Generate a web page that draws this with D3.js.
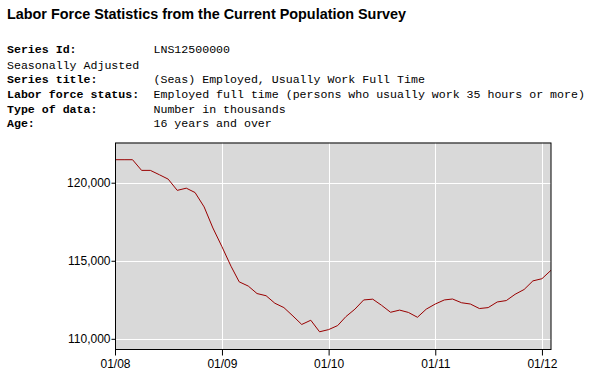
<html>
<head>
    <title>Labor Force Statistics</title>
    <style>
        body{
            margin: 0;
            background: #fff;
        }
        svg{
            display: block;
        }
        .title{
            font-family: Arial, "Liberation Sans", sans-serif;
            font-weight: bold;
            font-size: 14.4px;
        }
        .meta{
            font-family: "Courier New", "Liberation Mono", monospace;
            font-size: 11.6px;
        }
        .axis text{
            font-family: Arial, "Liberation Sans", sans-serif;
            font-size: 12px;
            fill: #000;
        }
    </style>
</head>
<body>
    <script src="https://d3js.org/d3.v7.min.js"></script>
    <script>
        // Series info shown above the chart
        const metaLabels = ["Series Id:", "Seasonally Adjusted", "Series title:", "Labor force status:", "Type of data:", "Age:"]
        const metaValues = ["LNS12500000", "", "(Seas) Employed, Usually Work Full Time",
                            "Employed full time (persons who usually work 35 hours or more)",
                            "Number in thousands", "16 years and over"]
        const metaBold = [true, false, true, true, true, true]

        // Monthly values, Jan 2008 - Feb 2012 (thousands)
        const months = ["2008-01","2008-02","2008-03","2008-04","2008-05","2008-06","2008-07","2008-08","2008-09","2008-10","2008-11","2008-12",
                        "2009-01","2009-02","2009-03","2009-04","2009-05","2009-06","2009-07","2009-08","2009-09","2009-10","2009-11","2009-12",
                        "2010-01","2010-02","2010-03","2010-04","2010-05","2010-06","2010-07","2010-08","2010-09","2010-10","2010-11","2010-12",
                        "2011-01","2011-02","2011-03","2011-04","2011-05","2011-06","2011-07","2011-08","2011-09","2011-10","2011-11","2011-12",
                        "2012-01","2012-02"]
        const employed = [121474, 121474, 121474, 120790, 120790, 120510, 120230, 119510, 119650, 119370, 118450, 117100,
                          115900, 114650, 113650, 113380, 112900, 112760, 112280, 112000, 111460, 110920, 111190, 110450,
                          110590, 110850, 111420, 111900, 112490, 112540, 112150, 111700, 111840, 111690, 111380, 111900,
                          112230, 112490, 112550, 112310, 112230, 111940, 112000, 112360, 112450, 112850, 113160, 113710,
                          113850, 114390]

        const yTicks = [110000, 115000, 120000]
        const xTicks = ["2008-01", "2009-01", "2010-01", "2011-01", "2012-01"]

        const width = 591
        const height = 373
        const plot = {left: 115, right: 551, top: 142.5, bottom: 349}

        const parseMonth = d3.timeParse("%Y-%m")
        const dates = months.map(parseMonth)

        const svg = d3.select("body")
                    .append("svg")
                    .attr("width", width)
                    .attr("height", height)

        // Title and series info
        svg.append("text")
            .attr("class", "title")
            .attr("x", 7)
            .attr("y", 18.5)
            .text("Labor Force Statistics from the Current Population Survey")

        const metaY = [52.5, 68.5, 83, 98, 112.5, 127]
        metaLabels.forEach((label, i) => {
            svg.append("text")
                .attr("class", "meta")
                .attr("x", 7)
                .attr("y", metaY[i])
                .attr("font-weight", metaBold[i] ? "bold" : "normal")
                .text(label)
            svg.append("text")
                .attr("class", "meta")
                .attr("x", 153.5)
                .attr("y", metaY[i])
                .text(metaValues[i])
        })

        // Scales
        const xScale = d3.scaleTime()
                        .domain([dates[0], dates[dates.length - 1]])
                        .range([plot.left, plot.right])

        const [lo, hi] = d3.extent(employed)
        const pad = (hi - lo) * 0.1
        const yScale = d3.scaleLinear()
                        .domain([lo - pad, hi + pad])
                        .range([plot.bottom, plot.top])

        // Plot background
        svg.append("rect")
            .attr("x", plot.left)
            .attr("y", plot.top)
            .attr("width", plot.right - plot.left)
            .attr("height", plot.bottom - plot.top)
            .attr("fill", "#d9d9d9")

        // Grid lines
        svg.append("g")
            .selectAll("line")
            .data(yTicks)
            .join("line")
            .attr("x1", plot.left)
            .attr("x2", plot.right)
            .attr("y1", d => Math.round(yScale(d)) + 0.5)
            .attr("y2", d => Math.round(yScale(d)) + 0.5)
            .attr("stroke", "#fff")

        svg.append("g")
            .selectAll("line")
            .data(xTicks.map(parseMonth))
            .join("line")
            .attr("x1", d => Math.round(xScale(d)) + 0.5)
            .attr("x2", d => Math.round(xScale(d)) + 0.5)
            .attr("y1", plot.top)
            .attr("y2", plot.bottom)
            .attr("stroke", "#fff")

        // Data line
        const line = d3.line()
                        .x((d, i) => xScale(dates[i]))
                        .y(d => yScale(d))

        svg.append("path")
            .datum(employed)
            .attr("fill", "none")
            .attr("stroke", "#990000")
            .attr("stroke-width", 1)
            .attr("d", line)

        // Frame
        svg.append("rect")
            .attr("x", plot.left + 0.5)
            .attr("y", plot.top + 0.5)
            .attr("width", plot.right - plot.left - 0.5)
            .attr("height", plot.bottom - plot.top)
            .attr("fill", "none")
            .attr("stroke", "#000")

        // Axes
        const yAxis = d3.axisLeft(yScale)
                        .tickValues(yTicks)
                        .tickFormat(d3.format(","))
                        .tickSize(4)
                        .tickPadding(1)

        const xAxis = d3.axisBottom(xScale)
                        .tickValues(xTicks.map(parseMonth))
                        .tickFormat(d3.timeFormat("%m/%y"))
                        .tickSize(6)
                        .tickPadding(4)

        svg.append("g")
            .attr("class", "axis")
            .attr("transform", "translate(" + (plot.left + 0.5) + ",0)")
            .call(yAxis)
            .call(g => g.select(".domain").remove())

        svg.append("g")
            .attr("class", "axis")
            .attr("transform", "translate(0," + (plot.bottom + 0.5) + ")")
            .call(xAxis)
            .call(g => g.select(".domain").remove())
    </script>
</body>
</html>
